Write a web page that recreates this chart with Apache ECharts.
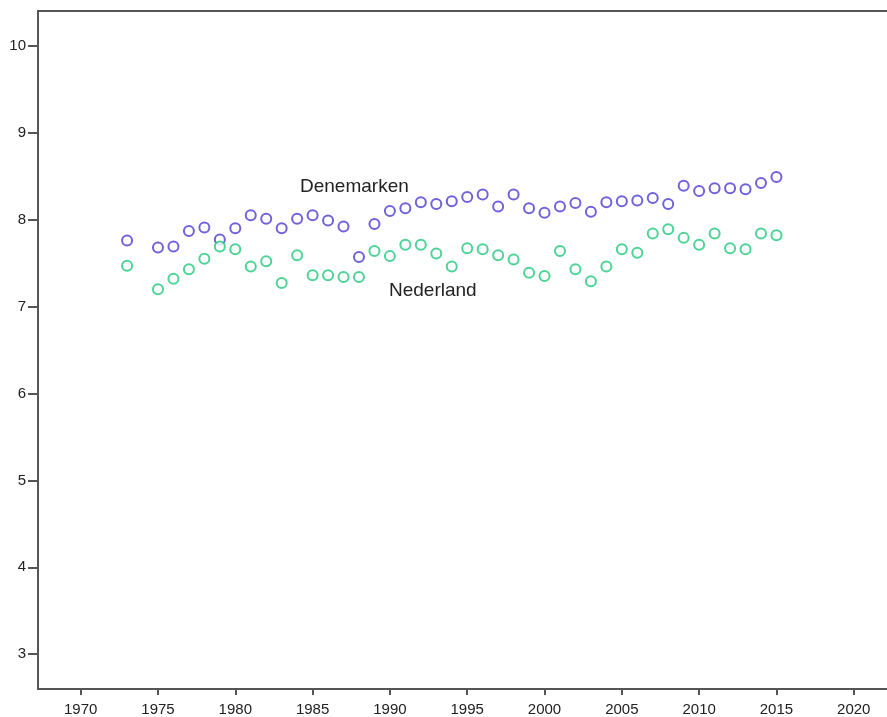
<!DOCTYPE html>
<html>
<head>
<meta charset="utf-8">
<script src="https://cdn.jsdelivr.net/npm/echarts@6/dist/echarts.min.js"></script>
<style>html,body{margin:0;padding:0;background:#fff}#c{width:887px;height:717px}</style>
</head>
<body>
<div id="c"></div>
<script>
const years = [1973,1975,1976,1977,1978,1979,1980,1981,1982,1983,1984,1985,1986,1987,1988,1989,1990,1991,1992,1993,1994,1995,1996,1997,1998,1999,2000,2001,2002,2003,2004,2005,2006,2007,2008,2009,2010,2011,2012,2013,2014,2015];
const denemarken = [7.76,7.68,7.69,7.87,7.91,7.77,7.90,8.05,8.01,7.90,8.01,8.05,7.99,7.92,7.57,7.95,8.10,8.13,8.20,8.18,8.21,8.26,8.29,8.15,8.29,8.13,8.08,8.15,8.19,8.09,8.20,8.21,8.22,8.25,8.18,8.39,8.33,8.36,8.36,8.35,8.42,8.49];
const nederland = [7.47,7.20,7.32,7.43,7.55,7.69,7.66,7.46,7.52,7.27,7.59,7.36,7.36,7.34,7.34,7.64,7.58,7.71,7.71,7.61,7.46,7.67,7.66,7.59,7.54,7.39,7.35,7.64,7.43,7.29,7.46,7.66,7.62,7.84,7.89,7.79,7.71,7.84,7.67,7.66,7.84,7.82];
const xTicks = [1970,1975,1980,1985,1990,1995,2000,2005,2010,2015,2020];
const yTicks = [3,4,5,6,7,8,9,10];
const seriesNames = ['Denemarken','Nederland'];

const chart = echarts.init(document.getElementById('c'), null, {renderer:'canvas'});
const axisColor = '#555';
const labelFont = {color:'#222', fontFamily:'Liberation Sans, Arial, sans-serif', fontSize:15};
chart.setOption({
  animation:false,
  backgroundColor:'#fff',
  grid:{left:38, right:0, top:11, bottom:28, containLabel:false},
  xAxis:[{
    type:'value', min:1967.24, max:2022.15, position:'bottom',
    axisLine:{show:true, lineStyle:{color:axisColor, width:2}},
    axisTick:{show:true, length:6, inside:false, customValues:xTicks, lineStyle:{color:axisColor, width:2}},
    axisLabel:Object.assign({customValues:xTicks, margin:13, formatter:v=>String(v)}, labelFont),
    splitLine:{show:false}
  },{
    type:'value', min:1967.24, max:2022.15, position:'top',
    axisLine:{show:true, lineStyle:{color:axisColor, width:2}},
    axisTick:{show:false}, axisLabel:{show:false}, splitLine:{show:false}
  }],
  yAxis:{
    type:'value', min:2.6, max:10.4,
    axisLine:{show:true, lineStyle:{color:axisColor, width:2}},
    axisTick:{show:true, length:10, customValues:yTicks, lineStyle:{color:axisColor, width:2}},
    axisLabel:Object.assign({customValues:yTicks, margin:12}, labelFont),
    splitLine:{show:false}
  },
  series:[{
    name:seriesNames[0], type:'scatter', symbol:'emptyCircle', symbolSize:10,
    itemStyle:{color:'#4b3bd2', borderWidth:2.6},
    data:years.map((y,i)=>[y,denemarken[i]])
  },{
    name:seriesNames[1], type:'scatter', symbol:'emptyCircle', symbolSize:10,
    itemStyle:{color:'#22c87c', borderWidth:2.6},
    data:years.map((y,i)=>[y,nederland[i]])
  }],
  graphic:[
    {type:'text', left:300, top:177, style:{text:seriesNames[0], fill:'#222', font:'19px "Liberation Sans", Arial, sans-serif'}},
    {type:'text', left:389, top:281, style:{text:seriesNames[1], fill:'#222', font:'19px "Liberation Sans", Arial, sans-serif'}}
  ]
});
</script>
</body>
</html>
